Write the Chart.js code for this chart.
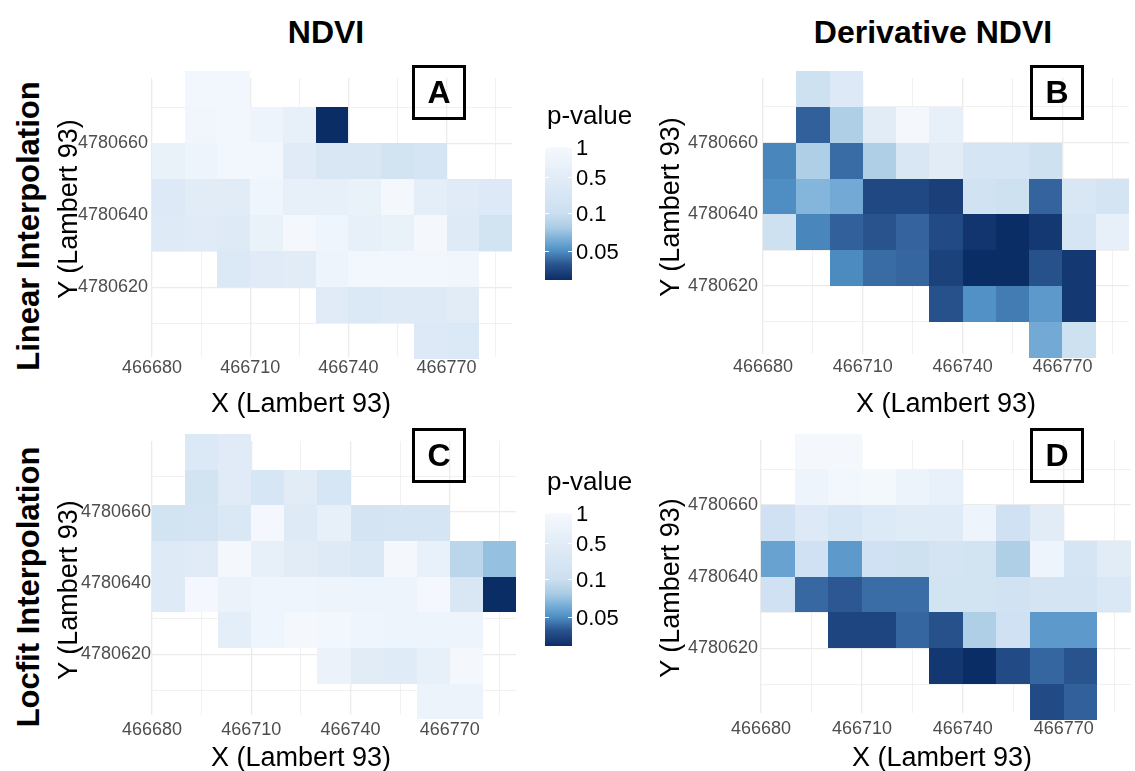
<!DOCTYPE html>
<html>
<head>
<meta charset="utf-8">
<title>p-value maps</title>
<script src="https://cdn.jsdelivr.net/npm/chart.js@4.4.1/dist/chart.umd.min.js"></script>
<style>
  body { margin: 0; background: #fff; font-family: "Liberation Sans", Arial, sans-serif; }
  #fig { position: relative; width: 1135px; height: 771px; overflow: hidden; background: #fff; }
  .txt { position: absolute; white-space: nowrap; line-height: 1; transform: translate(-50%, -50%); }
  .rot { transform: translate(-50%, -50%) rotate(-90deg); }
  .head { font-weight: bold; font-size: 32px; }
  .row { font-weight: bold; font-size: 31px; }
  .axt { font-size: 27px; }
  .letter { position: absolute; width: 54px; height: 55px; box-sizing: border-box; border: 3px solid #000;
            font-weight: bold; font-size: 32px; display: flex; align-items: center; justify-content: center; }
  canvas { position: absolute; }
  .ltitle { position: absolute; font-size: 26px; line-height: 1; white-space: nowrap; }
  .bar { position: absolute; width: 27px; height: 133px; }
  .lab { position: absolute; font-size: 22px; line-height: 1; transform: translateY(-50%); }
  .tk { position: absolute; width: 4px; height: 1px; background: #fff; }
</style>
</head>
<body>
<div id="fig">
  <div class="txt head" style="left:326px; top:32px;">NDVI</div>
  <div class="txt head" style="left:933px; top:32px;">Derivative NDVI</div>
  <div class="txt row rot" style="left:28px; top:226px;">Linear Interpolation</div>
  <div class="txt row rot" style="left:28px; top:587px;">Locfit Interpolation</div>

  <canvas id="chartA" width="480" height="360" style="left:40px; top:60px;"></canvas>
  <canvas id="chartB" width="495" height="360" style="left:640px; top:60px;"></canvas>
  <canvas id="chartC" width="480" height="351" style="left:40px; top:420px;"></canvas>
  <canvas id="chartD" width="495" height="351" style="left:640px; top:420px;"></canvas>

  <div class="txt axt rot" style="left:68px; top:209px;">Y (Lambert 93)</div>
  <div class="txt axt rot" style="left:670px; top:207px;">Y (Lambert 93)</div>
  <div class="txt axt rot" style="left:68px; top:590px;">Y (Lambert 93)</div>
  <div class="txt axt rot" style="left:670px; top:588px;">Y (Lambert 93)</div>
  <div class="txt axt" style="left:301px; top:403px;">X (Lambert 93)</div>
  <div class="txt axt" style="left:946px; top:403px;">X (Lambert 93)</div>
  <div class="txt axt" style="left:301px; top:757px;">X (Lambert 93)</div>
  <div class="txt axt" style="left:942px; top:757px;">X (Lambert 93)</div>

  <div class="letter" style="left:412px; top:65px;">A</div>
  <div class="letter" style="left:1030px; top:65px;">B</div>
  <div class="letter" style="left:412px; top:428px;">C</div>
  <div class="letter" style="left:1030px; top:428px;">D</div>
</div>

<script>
// cell centres (Lambert 93)
const xCentres = [466685, 466695, 466705, 466715, 466725, 466735, 466745, 466755, 466765, 466775, 466785];
const yCentres = [4780675, 4780665, 4780655, 4780645, 4780635, 4780625, 4780615, 4780605];
const yCentresLocfitNdvi = [4780676.8, 4780666.8, 4780656.8, 4780646.8, 4780636.8, 4780626.8, 4780616.8, 4780606.8];
const cellSize = 10;

// labelled ticks
const xTickLabels = [466680, 466710, 466740, 466770];
const yTickLabels = [4780620, 4780640, 4780660];

// p-values, rows from north to south, null = no cell
const pNdviLinear = [
  [null, 0.9, 0.9, null, null, null, null, null, null, null, null],
  [null, 0.85, 0.9, 0.75, 0.6, 0.01, null, null, null, null, null],
  [0.65, 0.75, 0.9, 0.9, 0.45, 0.25, 0.25, 0.15, 0.2, null, null],
  [0.35, 0.5, 0.5, 0.8, 0.6, 0.6, 0.65, 0.95, 0.55, 0.45, 0.35],
  [0.4, 0.45, 0.4, 0.65, 0.95, 0.8, 0.6, 0.65, 0.95, 0.4, 0.15],
  [null, null, 0.3, 0.45, 0.5, 0.75, 0.9, 0.9, 0.9, 0.85, null],
  [null, null, null, null, null, 0.45, 0.3, 0.4, 0.4, 0.5, null],
  [null, null, null, null, null, null, null, null, 0.35, 0.3, null]
];
const pDerivLinear = [
  [null, 0.12, 0.35, null, null, null, null, null, null, null, null],
  [null, 0.028, 0.08, 0.5, 0.95, 0.6, null, null, null, null, null],
  [0.045, 0.08, 0.032, 0.08, 0.25, 0.5, 0.2, 0.2, 0.12, null, null],
  [0.05, 0.065, 0.06, 0.018, 0.018, 0.015, 0.14, 0.12, 0.029, 0.25, 0.18],
  [0.12, 0.045, 0.028, 0.023, 0.029, 0.019, 0.012, 0.01, 0.013, 0.2, 0.6],
  [null, null, 0.048, 0.032, 0.03, 0.016, 0.01, 0.01, 0.022, 0.013, null],
  [null, null, null, null, null, 0.022, 0.051, 0.04, 0.054, 0.013, null],
  [null, null, null, null, null, null, null, null, 0.06, 0.12, null]
];
const pNdviLocfit = [
  [null, 0.3, 0.45, null, null, null, null, null, null, null, null],
  [null, 0.15, 0.45, 0.22, 0.5, 0.22, null, null, null, null, null],
  [0.15, 0.17, 0.28, 0.97, 0.38, 0.6, 0.17, 0.2, 0.2, null, null],
  [0.4, 0.45, 0.95, 0.6, 0.5, 0.4, 0.28, 0.95, 0.62, 0.088, 0.07],
  [0.4, 0.97, 0.7, 0.8, 0.8, 0.78, 0.75, 0.75, 0.97, 0.25, 0.01],
  [null, null, 0.55, 0.8, 0.95, 0.88, 0.8, 0.75, 0.75, 0.75, null],
  [null, null, null, null, null, 0.7, 0.5, 0.42, 0.6, 0.95, null],
  [null, null, null, null, null, null, null, null, 0.72, 0.72, null]
];
const pDerivLocfit = [
  [null, 0.95, 0.95, null, null, null, null, null, null, null, null],
  [null, 0.75, 0.88, 0.93, 0.72, 0.62, null, null, null, null, null],
  [0.13, 0.35, 0.22, 0.33, 0.42, 0.42, 0.75, 0.13, 0.5, null, null],
  [0.057, 0.13, 0.054, 0.13, 0.12, 0.17, 0.15, 0.08, 0.75, 0.2, 0.5],
  [0.13, 0.031, 0.025, 0.033, 0.033, 0.15, 0.15, 0.14, 0.17, 0.17, 0.28],
  [null, null, 0.017, 0.017, 0.03, 0.022, 0.08, 0.13, 0.054, 0.054, null],
  [null, null, null, null, null, 0.0125, 0.01, 0.019, 0.03, 0.023, null],
  [null, null, null, null, null, null, null, null, 0.019, 0.028, null]
];

// colour scale: p-value breaks and where they sit on the bar (0 bottom, 1 top)
const pBreaks = [0.01, 0.05, 0.1, 0.5, 1];
const tBreaks = [0, 0.218, 0.504, 0.774, 1];
const legendLabels = [1, 0.5, 0.1, 0.05];

const blueStops = [
  [0, [11, 45, 102]],
  [0.12, [43, 85, 144]],
  [0.22, [79, 143, 196]],
  [0.29, [112, 169, 212]],
  [0.39, [168, 203, 229]],
  [0.5, [203, 223, 240]],
  [0.62, [214, 229, 244]],
  [0.775, [225, 236, 247]],
  [0.88, [235, 242, 250]],
  [1, [245, 249, 254]]
];

function pToT(p) {
  p = Math.min(Math.max(p, pBreaks[0]), 1);
  const lp = Math.log10(p);
  for (let i = 1; i < pBreaks.length; i++) {
    if (p <= pBreaks[i]) {
      const a = Math.log10(pBreaks[i - 1]), b = Math.log10(pBreaks[i]);
      return tBreaks[i - 1] + (lp - a) / (b - a) * (tBreaks[i] - tBreaks[i - 1]);
    }
  }
  return 1;
}

function colourAt(t) {
  for (let i = 1; i < blueStops.length; i++) {
    if (t <= blueStops[i][0]) {
      const [t0, c0] = blueStops[i - 1], [t1, c1] = blueStops[i];
      const f = (t - t0) / (t1 - t0);
      const c = c0.map((v, k) => Math.round(v + f * (c1[k] - v)));
      return `rgb(${c[0]},${c[1]},${c[2]})`;
    }
  }
  const c = blueStops[blueStops.length - 1][1];
  return `rgb(${c[0]},${c[1]},${c[2]})`;
}

function cellsFrom(matrix, rows) {
  const out = [];
  matrix.forEach((row, r) => row.forEach((p, c) => {
    if (p !== null) out.push({ x: xCentres[c], y: rows[r], p: p });
  }));
  return out;
}

// draws one rectangle per cell through the chart scales
const tilePlugin = {
  id: 'tiles',
  beforeDatasetsDraw(chart) {
    const { ctx, scales: { x, y } } = chart;
    const half = cellSize / 2;
    ctx.save();
    chart.data.datasets[0].data.forEach(c => {
      const x0 = Math.round(x.getPixelForValue(c.x - half));
      const x1 = Math.round(x.getPixelForValue(c.x + half));
      const y0 = Math.round(y.getPixelForValue(c.y + half));
      const y1 = Math.round(y.getPixelForValue(c.y - half));
      ctx.fillStyle = colourAt(pToT(c.p));
      ctx.fillRect(x0, y0, x1 - x0, y1 - y0);
    });
    ctx.restore();
  }
};

Chart.defaults.font.family = '"Liberation Sans", Arial, sans-serif';

const gridColour = '#ebebeb';
const gridWidth = ctx => (ctx.tick && ctx.tick.label !== '' ? 1.3 : 0.7);

const panels = [
  { id: 'chartA', values: pNdviLinear, rows: yCentres, yRange: [4780600.6, 4780678.1],
    pad: { top: 18, right: 8 }, yw: 112, xh: 63, xtp: 0, ytp: 4 },
  { id: 'chartB', values: pDerivLinear, rows: yCentres, yRange: [4780601, 4780678.1],
    pad: { top: 18, right: 6 }, yw: 123, xh: 66, xtp: 2, ytp: 5 },
  { id: 'chartC', values: pNdviLocfit, rows: yCentresLocfitNdvi, yRange: [4780603, 4780679.9],
    pad: { top: 21, right: 4 }, yw: 112, xh: 56, xtp: 4, ytp: 1 },
  { id: 'chartD', values: pDerivLocfit, rows: yCentres, yRange: [4780601.9, 4780678.2],
    pad: { top: 20, right: 4 }, yw: 121, xh: 58, xtp: 5, ytp: 3 }
];

panels.forEach(panel => {
  new Chart(document.getElementById(panel.id), {
    type: 'scatter',
    data: {
      datasets: [{ data: cellsFrom(panel.values, panel.rows), pointRadius: 0, pointHoverRadius: 0 }]
    },
    options: {
      responsive: false,
      animation: false,
      events: [],
      layout: { padding: { top: panel.pad.top, right: panel.pad.right, left: 0, bottom: 0 } },
      plugins: { legend: { display: false }, tooltip: { enabled: false } },
      scales: {
        x: {
          type: 'linear',
          min: 466680,
          max: 466790,
          afterFit: s => { s.height = panel.xh; },
          border: { display: false },
          grid: { drawTicks: false, color: gridColour, lineWidth: gridWidth },
          ticks: {
            stepSize: 15,
            includeBounds: false,
            autoSkip: false,
            maxRotation: 0,
            padding: panel.xtp,
            color: '#4d4d4d',
            font: { size: 18 },
            callback: v => (xTickLabels.includes(v) ? String(v) : '')
          }
        },
        y: {
          type: 'linear',
          min: panel.yRange[0],
          max: panel.yRange[1],
          afterFit: s => { s.width = panel.yw; },
          border: { display: false },
          grid: { drawTicks: false, color: gridColour, lineWidth: gridWidth },
          ticks: {
            stepSize: 10,
            includeBounds: false,
            autoSkip: false,
            padding: panel.ytp,
            color: '#4d4d4d',
            font: { size: 18 },
            callback: v => (yTickLabels.includes(v) ? String(v) : '')
          }
        }
      }
    },
    plugins: [tilePlugin]
  });
});

// colour bars for the two NDVI panels
const fig = document.getElementById('fig');
const barHeight = 133;
const gradient = 'linear-gradient(to top, ' +
  blueStops.map(s => `rgb(${s[1].join(',')}) ${s[0] * 100}%`).join(', ') + ')';

[{ left: 545, top: 147 }, { left: 545, top: 513 }].forEach(spot => {
  const title = document.createElement('div');
  title.className = 'ltitle';
  title.textContent = 'p-value';
  title.style.left = (spot.left + 2) + 'px';
  title.style.top = (spot.top - 45) + 'px';
  fig.appendChild(title);

  const bar = document.createElement('div');
  bar.className = 'bar';
  bar.style.left = spot.left + 'px';
  bar.style.top = spot.top + 'px';
  bar.style.background = gradient;
  fig.appendChild(bar);

  legendLabels.forEach(v => {
    const yPix = spot.top + (1 - pToT(v)) * barHeight;
    const lab = document.createElement('div');
    lab.className = 'lab';
    lab.textContent = String(v);
    lab.style.left = (spot.left + 31) + 'px';
    lab.style.top = (yPix + 1) + 'px';
    fig.appendChild(lab);
    [spot.left, spot.left + 23].forEach(tx => {
      const tk = document.createElement('div');
      tk.className = 'tk';
      tk.style.left = tx + 'px';
      tk.style.top = Math.round(yPix) + 'px';
      fig.appendChild(tk);
    });
  });
});
</script>
</body>
</html>
